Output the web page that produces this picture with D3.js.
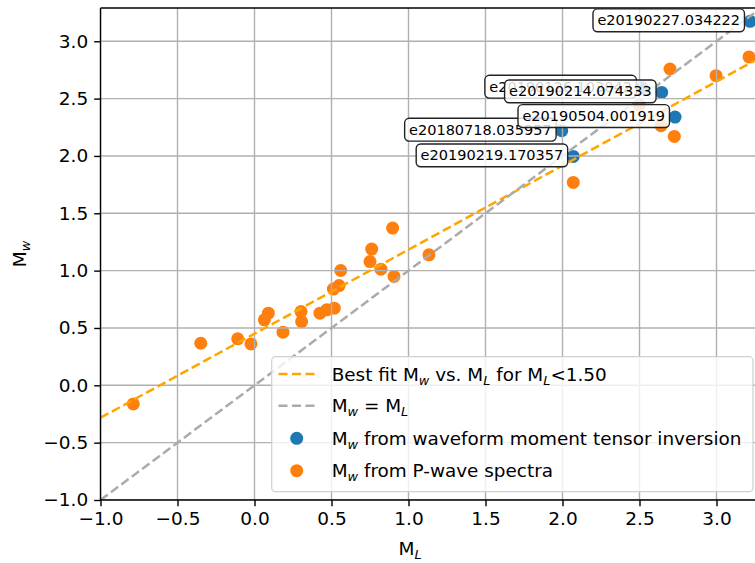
<!DOCTYPE html>
<html><head><meta charset="utf-8">
<script src="https://cdn.jsdelivr.net/npm/d3@7"></script>
<style>body{margin:0;background:#fff}svg{display:block}text{font-family:"DejaVu Sans",sans-serif}</style>
</head><body><svg id="c" width="755" height="563"></svg>
<script>
// ---- data ----
const xTicks = [-1.0, -0.5, 0.0, 0.5, 1.0, 1.5, 2.0, 2.5, 3.0];
const yTicks = [-1.0, -0.5, 0.0, 0.5, 1.0, 1.5, 2.0, 2.5, 3.0];
const xDomain = [-1.0, 3.25];
const yDomain = [-1.0, 3.29];

// Mw from P-wave spectra (orange)
const spectraML = [-0.787,-0.349,-0.109,-0.023,0.064,0.090,0.185,0.302,0.306,0.425,0.469,0.518,0.512,0.549,0.560,0.750,0.761,0.821,0.906,0.897,1.133,2.070,2.640,2.726,2.698,2.997,3.211,2.499];
const spectraMw = [-0.162,0.367,0.405,0.361,0.571,0.629,0.463,0.643,0.556,0.629,0.658,0.673,0.839,0.870,1.001,1.079,1.188,1.013,0.949,1.371,1.138,1.769,2.264,2.170,2.758,2.700,2.863,2.447];

// Mw from waveform moment tensor inversion (blue) with event labels
const mtEvents = ["e20180718.035957","e20190126.103842","e20190214.074333","e20190219.170357","e20190227.034222","e20190504.001919"];
const mtML = [1.995, 2.516, 2.644, 2.070, 3.218, 2.731];
const mtMw = [2.220, 2.595, 2.554, 1.996, 3.174, 2.339];

// best fit line (ML < 1.50)
const fitSlope = 0.733;
const fitIntercept = 0.45;

const legendLabels = [
  ["Best fit M", "w", " vs. M", "L", " for M", "L", "<1.50"],
  ["M", "w", " = M", "L"],
  ["M", "w", " from waveform moment tensor inversion"],
  ["M", "w", " from P-wave spectra"]
];

// ---- drawing ----
const svg = d3.select("#c");
const L = 100.5, R = 755, T = 8, B = 500;
const x = d3.scaleLinear().domain(xDomain).range([L, R]);
const y = d3.scaleLinear().domain(yDomain).range([B, T]);
const blue = "#1f77b4", orange = "#ff7f0e", fitColor = "#ffa500", idColor = "#ababab";
const FS = 18.5;

svg.append("defs").append("clipPath").attr("id","clip")
  .append("rect").attr("x",L).attr("y",T).attr("width",R-L).attr("height",B-T);

const plot = svg.append("g").attr("clip-path","url(#clip)");

// scatter (zorder 1)
plot.append("g").selectAll("circle").data(mtML).join("circle")
  .attr("cx", d => x(d)).attr("cy", (d,i) => y(mtMw[i])).attr("r", 6.5).attr("fill", blue);
plot.append("g").selectAll("circle").data(spectraML).join("circle")
  .attr("cx", d => x(d)).attr("cy", (d,i) => y(spectraMw[i])).attr("r", 6.5).attr("fill", orange);

// grid (zorder 1.5)
const grid = svg.append("g").attr("clip-path","url(#clip)");
grid.selectAll("line.gx").data(xTicks).join("line").attr("class","gx")
  .attr("x1", d=>x(d)).attr("x2", d=>x(d)).attr("y1", T).attr("y2", B)
  .attr("stroke","#b0b0b0").attr("stroke-width",1.4);
grid.selectAll("line.gy").data(yTicks).join("line").attr("class","gy")
  .attr("y1", d=>y(d)).attr("y2", d=>y(d)).attr("x1", L).attr("x2", R)
  .attr("stroke","#b0b0b0").attr("stroke-width",1.4);

// lines (zorder 2)
const lines = svg.append("g").attr("clip-path","url(#clip)");
lines.append("line")
  .attr("x1", x(xDomain[0])).attr("y1", y(fitIntercept + fitSlope*xDomain[0]))
  .attr("x2", x(xDomain[1])).attr("y2", y(fitIntercept + fitSlope*xDomain[1]))
  .attr("stroke", fitColor).attr("stroke-width", 2.5).attr("stroke-dasharray","9,4");
lines.append("line")
  .attr("x1", x(-1)).attr("y1", y(-1)).attr("x2", x(3.3)).attr("y2", y(3.3))
  .attr("stroke", idColor).attr("stroke-width", 2.5).attr("stroke-dasharray","9,4");

// axes
const fmt = d3.format(".1f");
const xAxis = svg.append("g").attr("transform",`translate(0,${B})`)
  .call(d3.axisBottom(x).tickValues(xTicks).tickFormat(fmt).tickSize(6.3).tickPadding(6));
const yAxis = svg.append("g").attr("transform",`translate(${L},0)`)
  .call(d3.axisLeft(y).tickValues(yTicks).tickFormat(fmt).tickSize(6.3).tickPadding(6));
[xAxis, yAxis].forEach(a => {
  a.select(".domain").remove();
  a.selectAll("line").attr("stroke","#000").attr("stroke-width",1.4);
  a.selectAll("text").attr("fill","#000").style("font-size",FS+"px").style("font-family","DejaVu Sans");
});
// spines
svg.append("line").attr("x1",L).attr("x2",L).attr("y1",T).attr("y2",B).attr("stroke","#000").attr("stroke-width",1.4);
svg.append("line").attr("x1",L).attr("x2",R+2).attr("y1",B).attr("y2",B).attr("stroke","#000").attr("stroke-width",1.4);
svg.append("line").attr("x1",L).attr("x2",R+2).attr("y1",T).attr("y2",T).attr("stroke","#000").attr("stroke-width",1.4);

// rich text helper: parts alternate normal / subscript
function rich(sel, parts, size) {
  parts.forEach((p, i) => {
    const sub = i % 2 === 1;
    const t = sel.append("tspan").text(p);
    if (sub) {
      t.style("font-size", (size*0.7)+"px").style("font-style","italic").attr("dy", size*0.22);
    } else if (i > 0) {
      t.attr("dy", -size*0.22);
    }
  });
}

// axis labels
const xl = svg.append("text").attr("x", 410).attr("y", 555).attr("text-anchor","middle")
  .style("font-size",FS+"px").attr("fill","#000");
rich(xl, ["M","L"], FS);
const yl = svg.append("text").attr("transform","translate(26,254) rotate(-90)").attr("text-anchor","middle")
  .style("font-size",FS+"px").attr("fill","#000");
rich(yl, ["M","w"], FS);

// annotations (zorder 3)
const ann = svg.append("g");
mtEvents.forEach((name, i) => {
  const px = x(mtML[i]), py = y(mtMw[i]);
  const g = ann.append("g");
  const rect = g.append("rect");
  const t = g.append("text").attr("x", px - 10).attr("y", py - 1)
    .attr("text-anchor","end").attr("dominant-baseline","central")
    .style("font-size","14.5px").attr("fill","#000").text(name);
  const bb = t.node().getBBox();
  const pad = 4.4;
  rect.attr("x", bb.x - pad).attr("y", bb.y - pad + 1).attr("width", bb.width + 2*pad).attr("height", bb.height + 2*pad - 2)
    .attr("rx", 4.5).attr("fill","#fff").attr("fill-opacity",0.82)
    .attr("stroke","#222").attr("stroke-width",1.4);
});

// legend (zorder 5)
const lg = svg.append("g");
lg.append("rect").attr("x",271.7).attr("y",356.7).attr("width",481.3).attr("height",135)
  .attr("rx",4).attr("fill","#fff").attr("fill-opacity",0.8).attr("stroke","#d0d0d0").attr("stroke-width",1.2);
const rows = [374, 405.7, 438.3, 470.7];
lg.append("line").attr("x1",278.5).attr("x2",314.5).attr("y1",rows[0]).attr("y2",rows[0])
  .attr("stroke",fitColor).attr("stroke-width",2.5).attr("stroke-dasharray","9,4.5");
lg.append("line").attr("x1",278.5).attr("x2",314.5).attr("y1",rows[1]).attr("y2",rows[1])
  .attr("stroke",idColor).attr("stroke-width",2.5).attr("stroke-dasharray","9,4.5");
lg.append("circle").attr("cx",296.7).attr("cy",rows[2]).attr("r",6.5).attr("fill",blue);
lg.append("circle").attr("cx",296.7).attr("cy",rows[3]).attr("r",6.5).attr("fill",orange);
legendLabels.forEach((parts, i) => {
  const t = lg.append("text").attr("x",331.7).attr("y",rows[i]+6.5).style("font-size","18.4px").attr("fill","#000");
  rich(t, parts, 18.4);
});
</script></body></html>
